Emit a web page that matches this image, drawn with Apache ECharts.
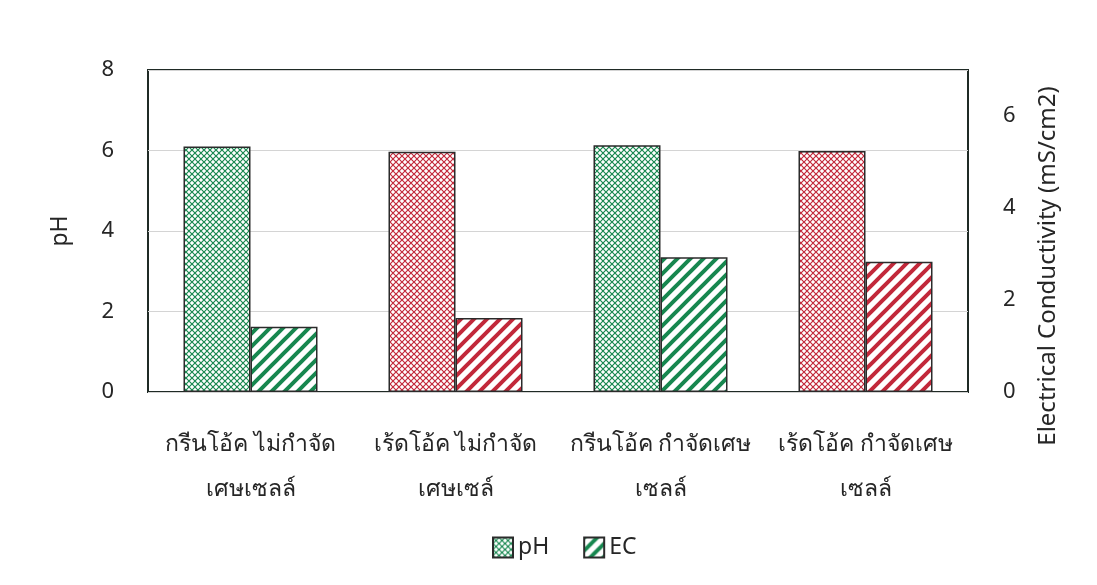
<!DOCTYPE html>
<html>
<head>
<meta charset="utf-8">
<script src="https://cdn.jsdelivr.net/npm/echarts@6/dist/echarts.min.js"></script>
<style>
  html, body { margin: 0; padding: 0; background: #fff; }
  #chart { width: 1097px; height: 585px; }
</style>
</head>
<body>
<div id="chart"></div>
<script>
// ข้อมูล
const categories = [
  "กรีนโอ้ค ไม่กำจัด\nเศษเซลล์",
  "เร้ดโอ้ค ไม่กำจัด\nเศษเซล์",
  "กรีนโอ้ค กำจัดเศษ\nเซลล์",
  "เร้ดโอ้ค กำจัดเศษ\nเซลล์",
];
const phValues = [6.1, 5.97, 6.13, 5.99];
const ecValues = [1.42, 1.61, 2.93, 2.83];
const itemTone = ["green", "red", "green", "red"];

const GREEN = "#17874f";
const RED = "#c2283a";
const TEXT = "#262626";
const FONT = "'Noto Sans', 'DejaVu Sans', sans-serif";

// ลายเติมแท่ง
const makeHatch = (color) => {
  const c = document.createElement("canvas");
  c.width = 6; c.height = 6;
  const g = c.getContext("2d");
  g.fillStyle = "#fff";
  g.fillRect(0, 0, 6, 6);
  g.strokeStyle = color;
  g.lineWidth = 1.2;
  g.beginPath();
  g.moveTo(0, 0); g.lineTo(6, 6);
  g.moveTo(0, 6); g.lineTo(6, 0);
  g.stroke();
  return c;
};
const makeStripe = (color) => {
  const s = 13;
  const c = document.createElement("canvas");
  c.width = s; c.height = s;
  const g = c.getContext("2d");
  g.fillStyle = "#fff";
  g.fillRect(0, 0, s, s);
  g.strokeStyle = color;
  g.lineWidth = 4;
  g.beginPath();
  g.moveTo(0, s); g.lineTo(s, 0);
  g.moveTo(-s / 2, s / 2); g.lineTo(s / 2, -s / 2);
  g.moveTo(s / 2, s * 1.5); g.lineTo(s * 1.5, s / 2);
  g.stroke();
  return c;
};

const fills = {
  ph: { green: makeHatch(GREEN), red: makeHatch(RED) },
  ec: { green: makeStripe(GREEN), red: makeStripe(RED) },
};
const pat = (canvas) => ({ image: canvas, repeat: "repeat" });

const chart = echarts.init(document.getElementById("chart"));
chart.setOption({
  backgroundColor: "#fff",
  textStyle: { fontFamily: FONT },
  grid: {
    left: 148, right: 129, top: 70, bottom: 193,
    show: true, borderColor: "#1f2a25", borderWidth: 2,
  },
  legend: {
    left: 487, top: 531,
    icon: "rect",
    itemWidth: 20, itemHeight: 20, itemGap: 34,
    textStyle: { fontSize: 23, color: TEXT, fontFamily: FONT },
    data: ["pH", "EC"],
  },
  xAxis: {
    type: "category",
    data: categories,
    axisLine: { show: false },
    axisTick: { show: false },
    axisLabel: {
      interval: 0, fontSize: 23, color: TEXT, margin: 30,
      lineHeight: 45, fontFamily: FONT,
    },
  },
  yAxis: [
    {
      type: "value", min: 0, max: 8, interval: 2,
      name: "pH", nameLocation: "middle", nameGap: 76, nameRotate: 90,
      nameTextStyle: { fontSize: 23, color: TEXT },
      axisLine: { show: false },
      axisTick: { show: false },
      axisLabel: { fontSize: 22, color: TEXT, margin: 34 },
      splitLine: { lineStyle: { color: "#d4d4d4", width: 1 } },
    },
    {
      type: "value", min: 0, max: 7, interval: 2,
      name: "Electrical Conductivity (mS/cm2)", nameLocation: "middle",
      nameGap: 68, nameRotate: 90,
      nameTextStyle: { fontSize: 24, color: TEXT, padding: [0, 70, 0, 0] },
      axisLine: { show: false },
      axisTick: { show: false },
      axisLabel: {
        fontSize: 22, color: TEXT, margin: 35,
        formatter: (v) => (v % 2 === 0 ? String(v) : ""),
      },
      splitLine: { show: false },
    },
  ],
  series: [
    {
      name: "pH", type: "bar", yAxisIndex: 0,
      barWidth: 67, barGap: "0%",
      itemStyle: { color: pat(fills.ph.green), borderColor: "#2b2b2b", borderWidth: 1.5 },
      data: phValues.map((v, i) => ({
        value: v,
        itemStyle: { color: pat(fills.ph[itemTone[i]]) },
      })),
    },
    {
      name: "EC", type: "bar", yAxisIndex: 1,
      barWidth: 67, barGap: "0%",
      itemStyle: { color: pat(fills.ec.green), borderColor: "#2b2b2b", borderWidth: 1.5 },
      data: ecValues.map((v, i) => ({
        value: v,
        itemStyle: { color: pat(fills.ec[itemTone[i]]) },
      })),
    },
  ],
});
</script>
</body>
</html>
